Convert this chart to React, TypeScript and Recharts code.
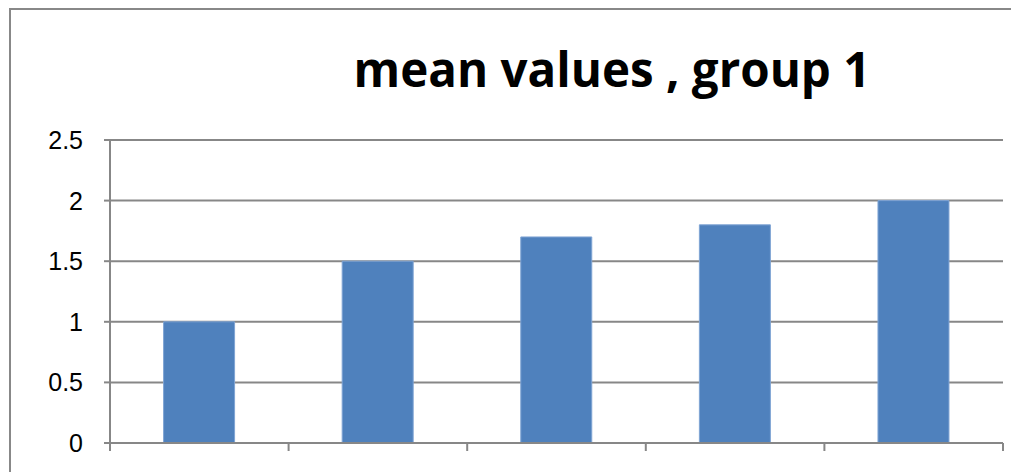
import { Bar, BarChart, CartesianGrid, XAxis, YAxis } from "recharts";

const categories = ["1", "2", "3", "4", "5"];
const meanValues = [1, 1.5, 1.7, 1.8, 2];
const yTicks = [0, 0.5, 1, 1.5, 2, 2.5];

const data = categories.map((c, i) => ({ name: c, value: meanValues[i] }));

const GRAY = "#878787";

// Excel-style ticks: marks sit on the category boundaries, no labels
function BoundaryTick(props: any) {
  const { x, y, payload, index } = props;
  const half = payload.offset || 0;
  const last = index === categories.length - 1;
  return (
    <g>
      <line x1={x - half} x2={x - half} y1={y} y2={y + 8} stroke={GRAY} strokeWidth={2} />
      {last && <line x1={x + half} x2={x + half} y1={y} y2={y + 8} stroke={GRAY} strokeWidth={2} />}
    </g>
  );
}

function YTick(props: any) {
  const { x, y, payload } = props;
  return (
    <text x={x} y={y} dy={9} textAnchor="end" fill="#000" fontSize={25} fontFamily="'Liberation Sans', Arial, sans-serif">
      {payload.value}
    </text>
  );
}

export default function App() {
  return (
    <div style={{ position: "absolute", left: 0, top: 0, width: 1011, height: 472, overflow: "hidden", background: "#fff" }}>
      <div
        style={{
          position: "absolute",
          left: 9,
          top: 8,
          width: 1200,
          height: 600,
          border: "2px solid #888",
          boxSizing: "border-box",
        }}
      />
      <div
        style={{
          position: "absolute",
          left: 0,
          top: 39,
          width: 1224,
          textAlign: "center",
          fontFamily: "'Open Sans', sans-serif",
          fontWeight: 700,
          fontSize: 47.5,
          lineHeight: "60px",
          color: "#000",
        }}
      >
        mean values , group 1
      </div>
      <BarChart
        width={1011}
        height={472}
        data={data}
        margin={{ top: 140, right: 8, bottom: 0, left: 10 }}
        barCategoryGap="30%"
        style={{ position: "absolute", left: 0, top: 0 }}
      >
        <CartesianGrid horizontal vertical={false} stroke={GRAY} strokeWidth={2} />
        <XAxis
          dataKey="name"
          height={29}
          tickSize={0}
          tickMargin={0}
          tickLine={false}
          interval={0}
          tick={<BoundaryTick />}
          axisLine={{ stroke: GRAY, strokeWidth: 2 }}
        />
        <YAxis
          domain={[0, 2.5]}
          ticks={yTicks}
          width={100}
          tickSize={6}
          tickMargin={21}
          axisLine={{ stroke: GRAY, strokeWidth: 2 }}
          tickLine={{ stroke: GRAY, strokeWidth: 2 }}
          tick={<YTick />}
        />
        <Bar dataKey="value" fill="#4F81BD" stroke="#7FA4D4" strokeWidth={1} isAnimationActive={false} />
      </BarChart>
    </div>
  );
}
